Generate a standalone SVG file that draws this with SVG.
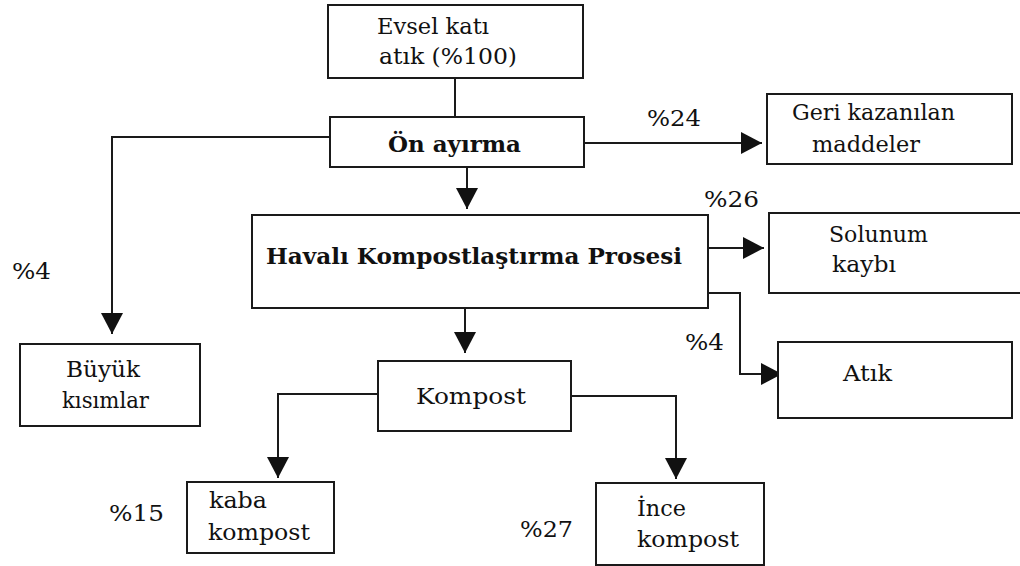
<svg xmlns="http://www.w3.org/2000/svg" width="1020" height="566" viewBox="0 0 1020 566">
<style>
.box{fill:#fff;stroke:#1a1a1a;stroke-width:2}
.ln{fill:none;stroke:#1a1a1a;stroke-width:2}
.t{font-family:'DejaVu Serif','Liberation Serif','Times New Roman',serif;font-size:23px;fill:#111}
.b{font-weight:bold}
</style>
<defs>
<marker id="ah" markerUnits="userSpaceOnUse" markerWidth="24" markerHeight="24" refX="21" refY="11" orient="auto" viewBox="0 0 24 24">
<path d="M0,0 L21,11 L0,22 z" fill="#111"/>
</marker>
</defs>
<rect width="1020" height="566" fill="#fff"/>
<g id="connectors">
<path class="ln" d="M455,78 V117"/>
<path class="ln" d="M330,137 H112 V334" marker-end="url(#ah)"/>
<path class="ln" d="M584,143 H762" marker-end="url(#ah)"/>
<path class="ln" d="M467,167 V209" marker-end="url(#ah)"/>
<path class="ln" d="M708,248 H764" marker-end="url(#ah)"/>
<path class="ln" d="M708,293 H740 V374 H782" marker-end="url(#ah)"/>
<path class="ln" d="M465,308 V353" marker-end="url(#ah)"/>
<path class="ln" d="M378,394 H278 V478" marker-end="url(#ah)"/>
<path class="ln" d="M571,396 H676 V479" marker-end="url(#ah)"/>
</g>
<g class="t">
<g id="evsel">
<rect class="box" x="328" y="5" width="255" height="73"/>
<text x="377" y="34" textLength="112" lengthAdjust="spacingAndGlyphs">Evsel katı</text>
<text x="379" y="64" textLength="138" lengthAdjust="spacingAndGlyphs">atık (%100)</text>
</g>
<g id="on-ayirma">
<rect class="box" x="330" y="117" width="254" height="50"/>
<text class="b" x="388" y="152" textLength="133" lengthAdjust="spacingAndGlyphs">Ön ayırma</text>
</g>
<g id="geri">
<rect class="box" x="767" y="94" width="245" height="70"/>
<text x="792" y="120" textLength="163" lengthAdjust="spacingAndGlyphs">Geri kazanılan</text>
<text x="812" y="152" textLength="108" lengthAdjust="spacingAndGlyphs">maddeler</text>
</g>
<g id="havali">
<rect class="box" x="252" y="215" width="456" height="93"/>
<text class="b" x="266" y="264" textLength="416" lengthAdjust="spacingAndGlyphs">Havalı Kompostlaştırma Prosesi</text>
</g>
<g id="solunum">
<rect class="box" x="769" y="213" width="260" height="80"/>
<text x="829" y="242" textLength="99" lengthAdjust="spacingAndGlyphs">Solunum</text>
<text x="832" y="272" textLength="64" lengthAdjust="spacingAndGlyphs">kaybı</text>
</g>
<g id="atik">
<rect class="box" x="778" y="342" width="234" height="76"/>
<text x="843" y="381" textLength="49" lengthAdjust="spacingAndGlyphs">Atık</text>
</g>
<g id="buyuk">
<rect class="box" x="20" y="344" width="180" height="82"/>
<text x="66" y="377" textLength="74" lengthAdjust="spacingAndGlyphs">Büyük</text>
<text x="62" y="408" textLength="87" lengthAdjust="spacingAndGlyphs">kısımlar</text>
</g>
<g id="kompost">
<rect class="box" x="378" y="361" width="193" height="70"/>
<text x="416" y="404" textLength="110" lengthAdjust="spacingAndGlyphs">Kompost</text>
</g>
<g id="kaba">
<rect class="box" x="187" y="482" width="147" height="71"/>
<text x="209" y="508" textLength="58" lengthAdjust="spacingAndGlyphs">kaba</text>
<text x="208" y="540" textLength="102" lengthAdjust="spacingAndGlyphs">kompost</text>
</g>
<g id="ince">
<rect class="box" x="596" y="483" width="168" height="82"/>
<text x="637" y="516" textLength="49" lengthAdjust="spacingAndGlyphs">İnce</text>
<text x="637" y="547" textLength="102" lengthAdjust="spacingAndGlyphs">kompost</text>
</g>
<g id="labels">
<text x="647" y="126" textLength="54" lengthAdjust="spacingAndGlyphs">%24</text>
<text x="704" y="207" textLength="55" lengthAdjust="spacingAndGlyphs">%26</text>
<text x="12" y="279" textLength="39" lengthAdjust="spacingAndGlyphs">%4</text>
<text x="685" y="350" textLength="39" lengthAdjust="spacingAndGlyphs">%4</text>
<text x="109" y="521" textLength="55" lengthAdjust="spacingAndGlyphs">%15</text>
<text x="520" y="537" textLength="53" lengthAdjust="spacingAndGlyphs">%27</text>
</g>
</g>
</svg>
